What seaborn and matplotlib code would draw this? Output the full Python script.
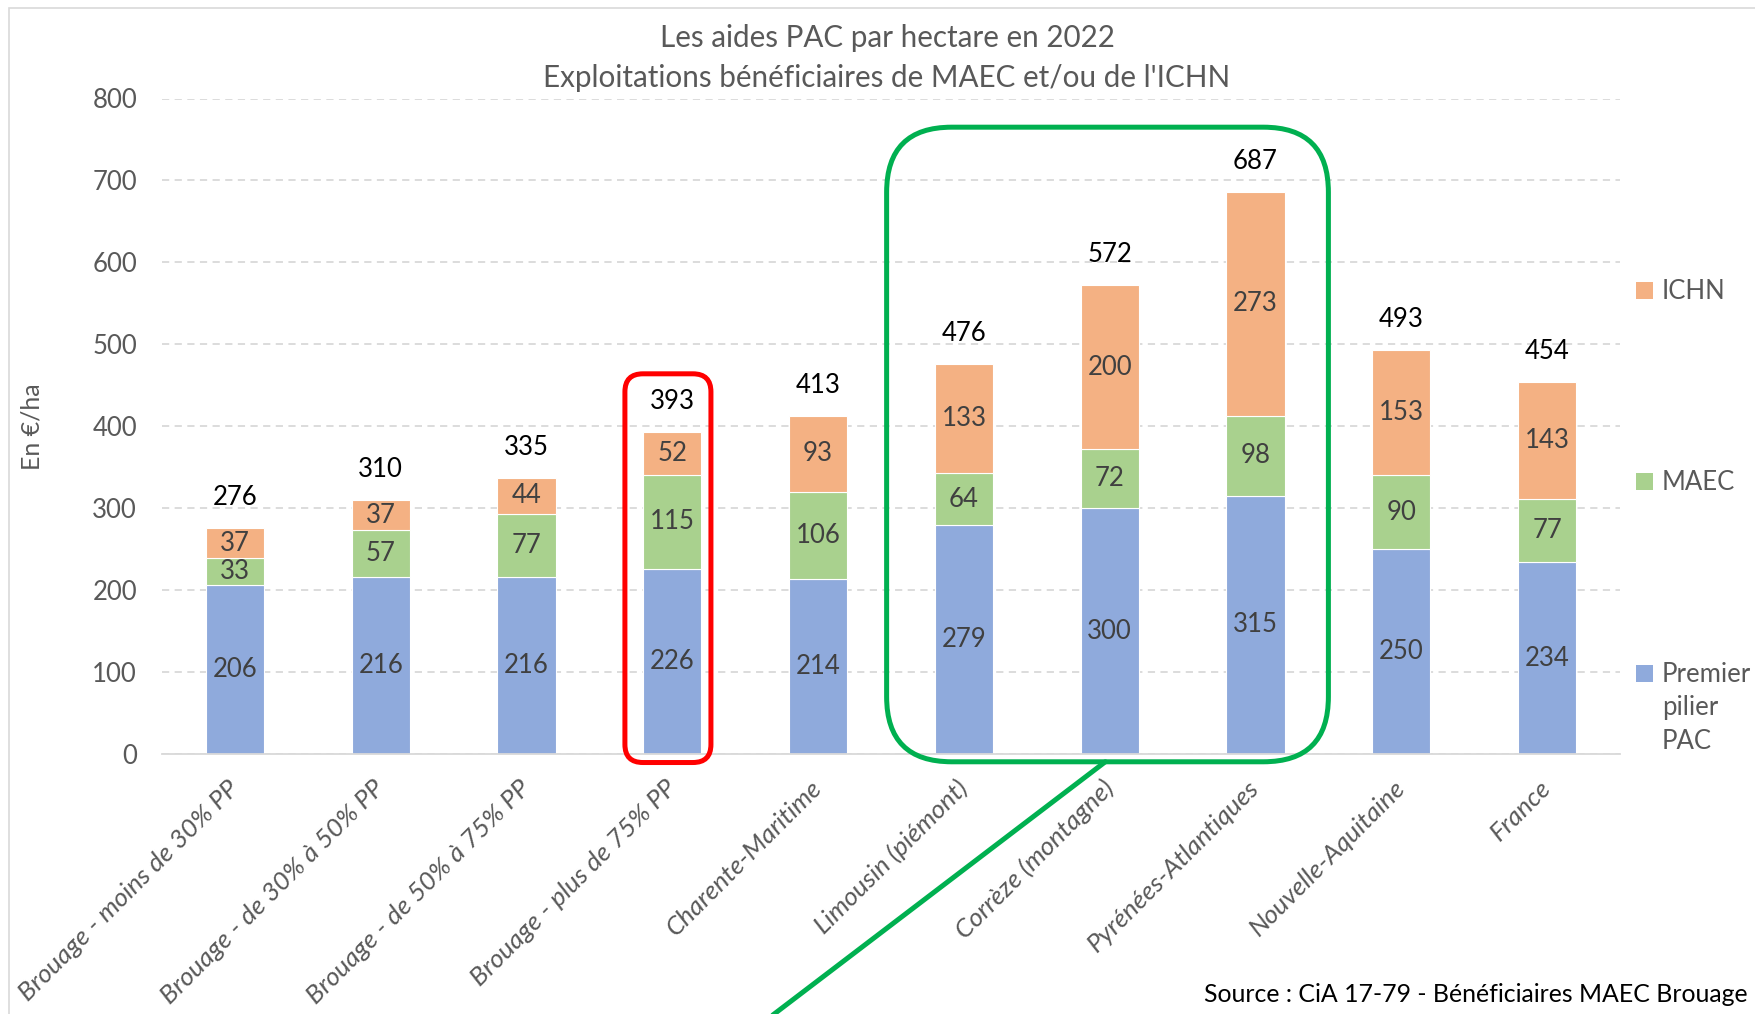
import matplotlib
matplotlib.use("Agg")
import matplotlib.pyplot as plt
import matplotlib.transforms as mtrans
from matplotlib.patches import FancyBboxPatch, Rectangle
from matplotlib.lines import Line2D
import seaborn as sns
import pandas as pd

# ---------------- data ----------------
categories = [
    "Brouage - moins de 30% PP",
    "Brouage - de 30% à 50% PP",
    "Brouage - de 50% à 75% PP",
    "Brouage - plus de 75% PP",
    "Charente-Maritime",
    "Limousin (piémont)",
    "Corrèze (montagne)",
    "Pyrénées-Atlantiques",
    "Nouvelle-Aquitaine",
    "France",
]
premier = [206, 216, 216, 226, 214, 279, 300, 315, 250, 234]
maec = [33, 57, 77, 115, 106, 64, 72, 98, 90, 77]
ichn = [37, 37, 44, 52, 93, 133, 200, 273, 153, 143]
totals = [276, 310, 335, 393, 413, 476, 572, 687, 493, 454]
yticks = [0, 100, 200, 300, 400, 500, 600, 700, 800]
series_labels = ["ICHN", "MAEC", "Premier\npilier\nPAC"]
title_lines = ["Les aides PAC par hectare en 2022",
               "Exploitations bénéficiaires de MAEC et/ou de l'ICHN"]
ylabel = "En €/ha"
source = "Source : CiA 17-79 - Bénéficiaires MAEC Brouage"

C_BLUE, C_GREEN, C_ORANGE = "#8FAADC", "#A9D18E", "#F4B183"
GREY = "#595959"
FS = 18.5

sns.set_theme(style="white")
plt.rcParams["font.family"] = ["Lato", "DejaVu Sans"]

W, H = 1755, 1014
fig = plt.figure(figsize=(W / 100, H / 100), dpi=100)
ax = fig.add_axes([162 / W, 1 - 754 / H, (1620 - 162) / W, (754 - 98.5) / H])

df = pd.DataFrame({"cat": categories, "premier": premier, "maec": maec, "ichn": ichn})
bottom_maec = df["premier"].to_numpy()
bottom_ichn = (df["premier"] + df["maec"]).to_numpy()

common = dict(width=0.4, saturation=1, errorbar=None, edgecolor="white",
              linewidth=0.8, ax=ax, order=categories)
sns.barplot(data=df, x="cat", y="premier", color=C_BLUE, **common)
sns.barplot(data=df, x="cat", y="maec", color=C_GREEN, bottom=bottom_maec, **common)
sns.barplot(data=df, x="cat", y="ichn", color=C_ORANGE, bottom=bottom_ichn, **common)

for cont, vals in zip(ax.containers, [premier, maec, ichn]):
    ax.bar_label(cont, labels=[str(v) for v in vals], label_type="center",
                 color="#404040", fontsize=FS)
ax.bar_label(ax.containers[2], labels=[str(v) for v in totals], padding=13,
             color="black", fontsize=FS)

ax.set_xlim(-0.5, len(categories) - 0.5)
ax.set_ylim(0, 800)
ax.set_yticks(yticks)
ax.set_yticklabels([str(v) for v in yticks], fontsize=FS, color=GREY)
ax.set_xlabel("")
ax.set_ylabel("")
ax.tick_params(axis="y", length=0, pad=18)
ax.tick_params(axis="x", length=0, pad=22)
for lab in ax.get_xticklabels():
    lab.set_rotation(45)
    lab.set_ha("right")
    lab.set_va("center")
    lab.set_rotation_mode("anchor")
    lab.set_fontstyle("italic")
    lab.set_fontsize(18.8)
    lab.set_color(GREY)

ax.yaxis.grid(True, color="#d9d9d9", linestyle=(0, (4, 3)), linewidth=1.3)
ax.set_axisbelow(True)
for s in ["top", "right", "left"]:
    ax.spines[s].set_visible(False)
ax.spines["bottom"].set_color("#d9d9d9")
ax.spines["bottom"].set_linewidth(1.3)

# titles and texts
fig.text(887 / W, 1 - 38.5 / H, title_lines[0], ha="center", va="center", fontsize=21.3, color=GREY)
fig.text(887 / W, 1 - 78 / H, title_lines[1], ha="center", va="center", fontsize=21.3, color=GREY)
fig.text(32 / W, 1 - 427 / H, ylabel, rotation=90, ha="center", va="center", fontsize=18, color=GREY)
fig.text(1748 / W, 1 - 994 / H, source, ha="right", va="center", fontsize=17.9, color="black")

# legend (manual, spread out as in the reference)
leg_colors = [C_ORANGE, C_GREEN, C_BLUE]
leg_y = [290, 481, 673]
for lab, col, yy in zip(series_labels, leg_colors, leg_y):
    fig.add_artist(Rectangle((1636 / W, 1 - (yy + 8.5) / H), 17 / W, 17 / H,
                             transform=fig.transFigure, facecolor=col, edgecolor="none"))
    fig.text(1662 / W, 1 - (yy - 11) / H, lab, ha="left", va="top", fontsize=FS,
             color=GREY, linespacing=1.42)

# chart border
fig.add_artist(Rectangle((9 / W, -0.05), 1.2, 1.05 - 8 / H, transform=fig.transFigure,
                         facecolor="none", edgecolor="#d9d9d9", linewidth=1.2))

# highlight boxes (computed from data coords)
fig.canvas.draw()
ident = mtrans.IdentityTransform()


def rbox(x0, x1, y0, y1, color, rad):
    (px0, py0) = ax.transData.transform((x0, y0))
    (px1, py1) = ax.transData.transform((x1, y1))
    p = FancyBboxPatch((px0, py0), px1 - px0, py1 - py0,
                       boxstyle=f"round,pad=0,rounding_size={rad}",
                       facecolor="none", edgecolor=color, linewidth=3.6,
                       transform=ident, clip_on=False)
    fig.add_artist(p)
    return px0, py0, px1, py1


rbox(2.675, 3.265, -10.4, 464, "#FF0000", 18)
rbox(4.47, 7.50, -9.5, 765, "#00B050", 65)
sx, sy = ax.transData.transform((5.97, -9.5))
fig.add_artist(Line2D([sx, sx - 1.313 * (sy + 20)], [sy, -20], color="#00B050",
                      linewidth=3.6, transform=ident, clip_on=False))

fig.savefig("out.png", dpi=100)
